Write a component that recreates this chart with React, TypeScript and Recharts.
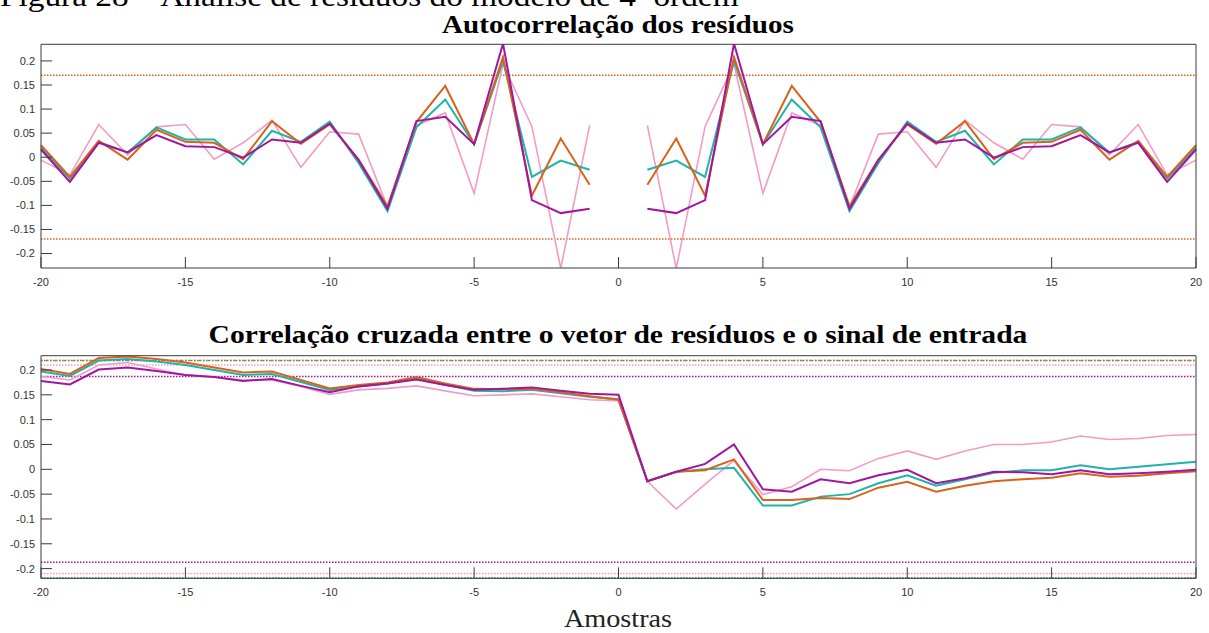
import { LineChart, Line, XAxis, YAxis, ReferenceLine } from 'recharts'

// lags (amostras)
const LAGS = [
  -20, -19, -18, -17, -16, -15, -14, -13, -12, -11, -10, -9, -8, -7, -6, -5, -4, -3, -2, -1, 0,
  1, 2, 3, 4, 5, 6, 7, 8, 9, 10, 11, 12, 13, 14, 15, 16, 17, 18, 19, 20,
]
const X_TICKS = [-20, -15, -10, -5, 0, 5, 10, 15, 20]
const Y_TICKS = [-0.2, -0.15, -0.1, -0.05, 0, 0.05, 0.1, 0.15, 0.2]

// Autocorrelação dos resíduos (lag 0 omitido)
const ACF_CYAN = [
  0.02, -0.044, 0.032, 0.01, 0.062, 0.037, 0.037, -0.015, 0.055, 0.032, 0.074, -0.012, -0.112, 0.062, 0.12, 0.027, 0.2, -0.041, -0.007, -0.026, null,
  -0.026, -0.007, -0.041, 0.2, 0.027, 0.12, 0.062, -0.112, -0.012, 0.074, 0.032, 0.055, -0.015, 0.037, 0.037, 0.062, 0.01, 0.032, -0.044, 0.02,
]
const ACF_ORANGE = [
  0.025, -0.041, 0.034, -0.005, 0.057, 0.032, 0.03, -0.004, 0.075, 0.028, 0.068, -0.005, -0.102, 0.073, 0.148, 0.027, 0.208, -0.08, 0.039, -0.057, null,
  -0.057, 0.039, -0.08, 0.208, 0.027, 0.148, 0.073, -0.102, -0.005, 0.068, 0.028, 0.075, -0.004, 0.03, 0.032, 0.057, -0.005, 0.034, -0.041, 0.025,
]
const ACF_PURPLE = [
  0.016, -0.051, 0.03, 0.01, 0.046, 0.023, 0.021, -0.001, 0.037, 0.03, 0.07, -0.006, -0.107, 0.075, 0.084, 0.027, 0.236, -0.089, -0.116, -0.107, null,
  -0.107, -0.116, -0.089, 0.236, 0.027, 0.084, 0.075, -0.107, -0.006, 0.07, 0.03, 0.037, -0.001, 0.021, 0.023, 0.046, 0.01, 0.03, -0.051, 0.016,
]
const ACF_PINK = [
  -0.006, -0.037, 0.068, 0.005, 0.063, 0.068, -0.004, 0.03, 0.077, -0.021, 0.053, 0.048, -0.103, 0.066, 0.092, -0.075, 0.194, 0.064, -0.231, 0.066, null,
  0.066, -0.231, 0.064, 0.194, -0.075, 0.092, 0.066, -0.103, 0.048, 0.053, -0.021, 0.077, 0.03, -0.004, 0.068, 0.063, 0.005, 0.068, -0.037, -0.006,
]

// Correlação cruzada resíduos x entrada
const CCF_CYAN = [
  0.197, 0.188, 0.219, 0.222, 0.217, 0.21, 0.2, 0.19, 0.192, 0.176, 0.16, 0.167, 0.173, 0.183, 0.17, 0.158, 0.157, 0.16, 0.153, 0.146, 0.141,
  -0.024, -0.005, 0.0, 0.003, -0.073, -0.073, -0.055, -0.05, -0.028, -0.012, -0.033, -0.02, -0.007, -0.002, -0.002, 0.008, 0.0, 0.005, 0.01, 0.015,
]
const CCF_ORANGE = [
  0.202, 0.192, 0.224, 0.227, 0.222, 0.215, 0.205, 0.195, 0.197, 0.18, 0.163, 0.17, 0.175, 0.186, 0.173, 0.162, 0.161, 0.162, 0.155, 0.147, 0.14,
  -0.024, -0.005, -0.002, 0.02, -0.062, -0.062, -0.058, -0.06, -0.037, -0.025, -0.045, -0.033, -0.024, -0.02, -0.017, -0.008, -0.015, -0.013, -0.008, -0.004,
]
const CCF_PURPLE = [
  0.178, 0.171, 0.201, 0.205, 0.198, 0.19, 0.186, 0.178, 0.182, 0.168, 0.155, 0.167, 0.173, 0.181, 0.17, 0.16, 0.162, 0.165, 0.158, 0.152, 0.15,
  -0.024, -0.005, 0.011, 0.05, -0.04, -0.045, -0.02, -0.028, -0.012, -0.001, -0.028, -0.018, -0.005, -0.006, -0.01, -0.002, -0.01, -0.008, -0.005, -0.001,
]
const CCF_PINK = [
  0.187, 0.18, 0.21, 0.215, 0.202, 0.19, 0.186, 0.18, 0.18, 0.167, 0.151, 0.16, 0.163, 0.168, 0.158, 0.148, 0.15, 0.152, 0.146, 0.14, 0.138,
  -0.024, -0.08, -0.03, 0.018, -0.051, -0.035, 0.0, -0.003, 0.022, 0.037, 0.02, 0.037, 0.05, 0.05, 0.055, 0.067, 0.06, 0.062, 0.068, 0.07,
]

// limites de confiança
const ACF_BOUND = 0.17
const CCF_BOUND_TEAL = 0.219
const CCF_BOUND_PINK = 0.21
const CCF_BOUND_PURPLE = 0.187

const CYAN = '#1fb3aa'
const ORANGE = '#d9621c'
const PURPLE = '#a0179e'
const PINK = '#f29bc6'
const AXIS = '#3a3a3a'
const SANS = '"Liberation Sans", Arial, sans-serif'
const SERIF = '"Liberation Serif", "Times New Roman", serif'

const acfData = LAGS.map((lag, i) => ({
  lag,
  cyan: ACF_CYAN[i],
  orange: ACF_ORANGE[i],
  purple: ACF_PURPLE[i],
  pink: ACF_PINK[i],
}))

const ccfData = LAGS.map((lag, i) => ({
  lag,
  cyan: CCF_CYAN[i],
  orange: CCF_ORANGE[i],
  purple: CCF_PURPLE[i],
  pink: CCF_PINK[i],
}))

const tickStyle = { fontSize: 11, fill: '#333', fontFamily: SANS }

function Panel({
  data,
  domain,
  height,
  margin,
  children,
}: {
  data: any[]
  domain: [number, number]
  height: number
  margin: { top: number; bottom: number }
  children?: React.ReactNode
}) {
  return (
    <LineChart
      width={1209}
      height={height}
      data={data}
      margin={{ top: margin.top, bottom: margin.bottom, left: 0, right: 12 }}
    >
      <XAxis
        dataKey="lag"
        type="number"
        domain={[-20, 20]}
        ticks={X_TICKS}
        interval={0}
        height={30}
        tickSize={-11}
        tickMargin={21}
        axisLine={{ stroke: AXIS }}
        tickLine={{ stroke: AXIS }}
        tick={tickStyle}
      />
      <XAxis
        xAxisId="top"
        orientation="top"
        dataKey="lag"
        type="number"
        domain={[-20, 20]}
        ticks={X_TICKS}
        interval={0}
        height={1}
        tickSize={-11}
        axisLine={{ stroke: AXIS }}
        tickLine={{ stroke: AXIS }}
        tick={false}
      />
      <YAxis
        type="number"
        domain={domain}
        ticks={Y_TICKS}
        interval={0}
        allowDataOverflow
        width={41}
        tickSize={-11}
        tickMargin={17}
        axisLine={{ stroke: AXIS }}
        tickLine={{ stroke: AXIS }}
        tick={tickStyle}
      />
      <YAxis
        yAxisId="r"
        orientation="right"
        type="number"
        domain={domain}
        ticks={Y_TICKS}
        interval={0}
        allowDataOverflow
        width={1}
        tickSize={-11}
        axisLine={{ stroke: AXIS }}
        tickLine={{ stroke: AXIS }}
        tick={false}
      />
      {children}
      <Line dataKey="pink" stroke={PINK} strokeWidth={1.6} dot={false} isAnimationActive={false} />
      <Line dataKey="cyan" stroke={CYAN} strokeWidth={2} dot={false} isAnimationActive={false} />
      <Line dataKey="orange" stroke={ORANGE} strokeWidth={2} dot={false} isAnimationActive={false} />
      <Line dataKey="purple" stroke={PURPLE} strokeWidth={2} dot={false} isAnimationActive={false} />
    </LineChart>
  )
}

const dotted = { strokeDasharray: '1.5 1.5', strokeWidth: 1.5 }

function Stretched({ x, y, size, bold, anchor, children, fill = '#000' }: any) {
  return (
    <g transform={`translate(${x} ${y}) scale(1.13 1)`}>
      <text x={0} y={0} textAnchor={anchor} fontFamily={SERIF} fontSize={size} fontWeight={bold ? 'bold' : 'normal'} fill={fill}>
        {children}
      </text>
    </g>
  )
}

export default function App() {
  return (
    <div style={{ position: 'relative', width: 1209, height: 633, background: '#fff', overflow: 'hidden' }}>
      <style>{'body{margin:0}'}</style>
      <div style={{ position: 'absolute', left: 0, top: 0 }}>
        <Panel data={acfData} domain={[-0.23, 0.2345]} height={300} margin={{ top: 43.3, bottom: 2 }}>
          <ReferenceLine y={ACF_BOUND} stroke={ORANGE} {...dotted} />
          <ReferenceLine y={-ACF_BOUND} stroke={ORANGE} {...dotted} />
        </Panel>
      </div>
      <div style={{ position: 'absolute', left: 0, top: 300 }}>
        <Panel data={ccfData} domain={[-0.2195, 0.2288]} height={333} margin={{ top: 54.7, bottom: 24.7 }}>
          <ReferenceLine y={CCF_BOUND_PURPLE} stroke={PURPLE} {...dotted} />
          <ReferenceLine y={-CCF_BOUND_PURPLE} stroke={PURPLE} {...dotted} />
          <ReferenceLine y={CCF_BOUND_PINK} stroke={PINK} {...dotted} />
          <ReferenceLine y={-CCF_BOUND_PINK} stroke={PINK} {...dotted} />
          <ReferenceLine y={CCF_BOUND_TEAL} stroke={ORANGE} {...dotted} />
          <ReferenceLine y={-CCF_BOUND_TEAL} stroke={ORANGE} {...dotted} />
          <ReferenceLine y={CCF_BOUND_TEAL} stroke={'#3f9e6a'} strokeDasharray="1.5 3" strokeWidth={1.5} />
          <ReferenceLine y={-CCF_BOUND_TEAL} stroke={CYAN} {...dotted} />
        </Panel>
      </div>
      <svg width={1209} height={633} style={{ position: 'absolute', left: 0, top: 0, pointerEvents: 'none' }}>
        <Stretched x={0} y={6} size={29.5}>
          Figura 28 – Análise de resíduos do modelo de 4ª ordem
        </Stretched>
        <Stretched x={618} y={33} size={25.8} bold anchor="middle">
          Autocorrelação dos resíduos
        </Stretched>
        <Stretched x={618} y={343} size={26.2} bold anchor="middle">
          Correlação cruzada entre o vetor de resíduos e o sinal de entrada
        </Stretched>
        <Stretched x={618} y={627} size={25} anchor="middle" fill="#222">
          Amostras
        </Stretched>
      </svg>
    </div>
  )
}
